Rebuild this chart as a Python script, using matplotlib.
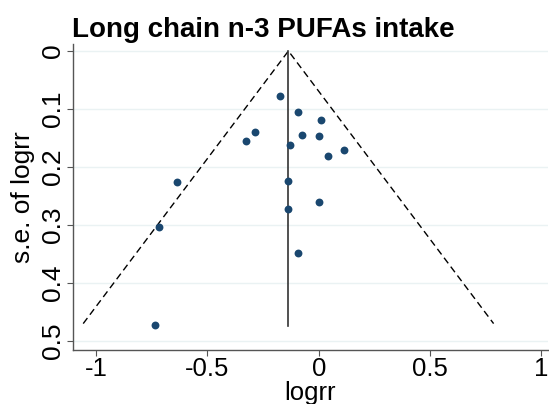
import matplotlib
matplotlib.use("Agg")
import matplotlib.pyplot as plt
import numpy as np

plt.rcParams['font.family'] = ['Liberation Sans', 'DejaVu Sans']

logrr = [-0.173, -0.094, 0.011, -0.288, -0.328, -0.073, 0.000, -0.128, 0.115,
         0.040, -0.634, -0.137, 0.000, -0.137, -0.715, -0.094, -0.733]
se = [0.078, 0.105, 0.119, 0.139, 0.156, 0.145, 0.146, 0.162, 0.171,
      0.181, 0.226, 0.225, 0.261, 0.273, 0.304, 0.348, 0.473]
pooled = -0.136
se_max = 0.47
xticks = [-1, -0.5, 0, 0.5, 1]
xtick_labels = ['-1', '-0.5', '0', '0.5', '1']
yticks = [0, 0.1, 0.2, 0.3, 0.4, 0.5]
ytick_labels = ['0', '0.1', '0.2', '0.3', '0.4', '0.5']

fig = plt.figure(figsize=(5.49, 4.04), dpi=100)
ax = fig.add_axes([0.133, 0.133, 0.865, 0.758])

for y in yticks:
    ax.axhline(y, color='#eaf2f3', lw=1.0, zorder=0)

ax.plot([pooled - 1.96 * se_max, pooled, pooled + 1.96 * se_max], [se_max, 0, se_max],
        color='black', lw=1.0, ls=(0, (5, 3)), zorder=2)
ax.plot([pooled, pooled], [0, se_max + 0.005], color='#333333', lw=1.2, zorder=2)
ax.scatter(logrr, se, s=32, color='#1a476f', zorder=3, linewidths=0)

ax.set_xlim(-1.103, 1.029)
ax.set_ylim(0.516, -0.012)
ax.set_xticks(xticks)
ax.set_xticklabels(xtick_labels)
ax.set_yticks(yticks)
ax.set_yticklabels(ytick_labels, rotation=90, va='center')
ax.tick_params(axis='y', labelsize=19, color='#555555', length=4, width=0.8, pad=2)
ax.tick_params(axis='x', labelsize=18.5, color='#555555', length=4, width=0.8, pad=1)
for side in ['top', 'right']:
    ax.spines[side].set_visible(False)
for side in ['left', 'bottom']:
    ax.spines[side].set_color('#555555')
    ax.spines[side].set_linewidth(1.0)

ax.set_xlabel('logrr', fontsize=18.5, labelpad=0)
ax.set_ylabel('s.e. of logrr', fontsize=19, labelpad=4)
fig.text(0.131, 0.925, 'Long chain n-3 PUFAs intake', fontsize=20, fontweight='bold',
         ha='left', va='center')

fig.savefig('out.png', dpi=100)
